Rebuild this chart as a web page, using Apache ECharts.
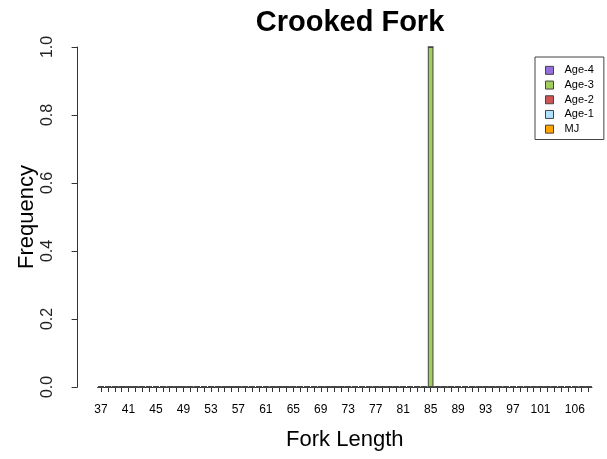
<!DOCTYPE html>
<html>
<head>
<meta charset="utf-8">
<script src="https://cdn.jsdelivr.net/npm/echarts@6/dist/echarts.min.js"></script>
<style>
html,body{margin:0;padding:0;background:#fff;}
#chart{width:607px;height:459px;}
</style>
</head>
<body>
<div id="chart"></div>
<script>
// fork length classes 37..108
var lengths = ['37','38','39','40','41','42','43','44','45','46','47','48',
  '49','50','51','52','53','54','55','56','57','58','59','60',
  '61','62','63','64','65','66','67','68','69','70','71','72',
  '73','74','75','76','77','78','79','80','81','82','83','84',
  '85','86','87','88','89','90','91','92','93','94','95','96',
  '97','98','99','100','101','102','103','104','105','106','107','108'];

// frequency per length class for each age group
var age4 = [0,0,0,0,0,0,0,0,0,0,0,0, 0,0,0,0,0,0,0,0,0,0,0,0, 0,0,0,0,0,0,0,0,0,0,0,0,
            0,0,0,0,0,0,0,0,0,0,0,0, 0,0,0,0,0,0,0,0,0,0,0,0, 0,0,0,0,0,0,0,0,0,0,0,0];
var age3 = [0,0,0,0,0,0,0,0,0,0,0,0, 0,0,0,0,0,0,0,0,0,0,0,0, 0,0,0,0,0,0,0,0,0,0,0,0,
            0,0,0,0,0,0,0,0,0,0,0,0, 1,0,0,0,0,0,0,0,0,0,0,0, 0,0,0,0,0,0,0,0,0,0,0,0];
var age2 = [0,0,0,0,0,0,0,0,0,0,0,0, 0,0,0,0,0,0,0,0,0,0,0,0, 0,0,0,0,0,0,0,0,0,0,0,0,
            0,0,0,0,0,0,0,0,0,0,0,0, 0,0,0,0,0,0,0,0,0,0,0,0, 0,0,0,0,0,0,0,0,0,0,0,0];
var age1 = [0,0,0,0,0,0,0,0,0,0,0,0, 0,0,0,0,0,0,0,0,0,0,0,0, 0,0,0,0,0,0,0,0,0,0,0,0,
            0,0,0,0,0,0,0,0,0,0,0,0, 0,0,0,0,0,0,0,0,0,0,0,0, 0,0,0,0,0,0,0,0,0,0,0,0];
var mj   = [0,0,0,0,0,0,0,0,0,0,0,0, 0,0,0,0,0,0,0,0,0,0,0,0, 0,0,0,0,0,0,0,0,0,0,0,0,
            0,0,0,0,0,0,0,0,0,0,0,0, 0,0,0,0,0,0,0,0,0,0,0,0, 0,0,0,0,0,0,0,0,0,0,0,0];

var groupNames = ['Age-4', 'Age-3', 'Age-2', 'Age-1', 'MJ'];
var groupColors = ['#9370DB', '#A2CD5A', '#CD5555', '#B0E2FF', '#FFA500'];
var yTicks = [0, 0.2, 0.4, 0.6, 0.8, 1.0];

var FONT = '"Liberation Sans", Arial, Helvetica, sans-serif';

var myChart = echarts.init(document.getElementById('chart'));

// bottom of stack is MJ, like the R barplot
var groupData = {'Age-4': age4, 'Age-3': age3, 'Age-2': age2, 'Age-1': age1, 'MJ': mj};
var series = [];
for (var i = groupNames.length - 1; i >= 0; i--) {
    series.push({
        name: groupNames[i],
        type: 'bar',
        stack: 'all',
        barCategoryGap: '17%',
        itemStyle: {color: groupColors[i], borderColor: '#444', borderWidth: 1},
        emphasis: {disabled: true},
        data: groupData[groupNames[i]]
    });
}

var option = {
    animation: false,
    backgroundColor: '#fff',
    textStyle: {fontFamily: FONT},
    title: {
        text: 'Crooked Fork',
        left: 345,
        textAlign: 'center',
        top: 3,
        textStyle: {fontSize: 29, fontWeight: 'bold', color: '#000', fontFamily: FONT}
    },
    legend: {
        data: groupNames,
        orient: 'vertical',
        left: 535,
        top: 57,
        width: 60,
        padding: [6, 10, 3, 10],
        borderColor: '#444',
        borderWidth: 1,
        borderRadius: 0,
        itemWidth: 8,
        itemHeight: 8,
        itemGap: 0,
        icon: 'rect',
        itemStyle: {borderColor: '#444', borderWidth: 1},
        textStyle: {fontSize: 11, color: '#000', lineHeight: 14.7, padding: [0, 0, 0, 6]}
    },
    grid: {left: 97.6, right: 15, top: 47, bottom: 72},
    xAxis: [{
        type: 'category',
        data: lengths,
        offset: 4,
        name: 'Fork Length',
        nameLocation: 'middle',
        nameGap: 38,
        nameTextStyle: {fontSize: 22, color: '#000'},
        axisLine: {show: true, lineStyle: {color: '#333', width: 1}},
        axisTick: {show: true, alignWithLabel: true, interval: 0, length: 5, lineStyle: {color: '#333'}},
        axisLabel: {
            fontSize: 12,
            color: '#000',
            margin: 13,
            interval: function (index, value) {
                return (index % 4 === 0 && +value <= 101) || value === '106';
            }
        },
        splitLine: {show: false}
    }],
    yAxis: {
        type: 'value',
        min: 0,
        max: 1,
        interval: 0.2,
        offset: 20,
        name: 'Frequency',
        nameLocation: 'middle',
        nameGap: 40,
        nameMoveOverlap: false,
        nameTextStyle: {fontSize: 22, color: '#000'},
        axisLine: {show: true, lineStyle: {color: '#333', width: 1}},
        axisTick: {show: true, length: 6, lineStyle: {color: '#333'}},
        axisLabel: {
            fontSize: 16,
            color: '#222',
            rotate: 90,
            margin: 22,
            formatter: function (v) { return yTicks.indexOf(v) >= 0 ? v.toFixed(1) : ''; }
        },
        splitLine: {show: false}
    },
    series: series
};

myChart.setOption(option);
</script>
</body>
</html>
